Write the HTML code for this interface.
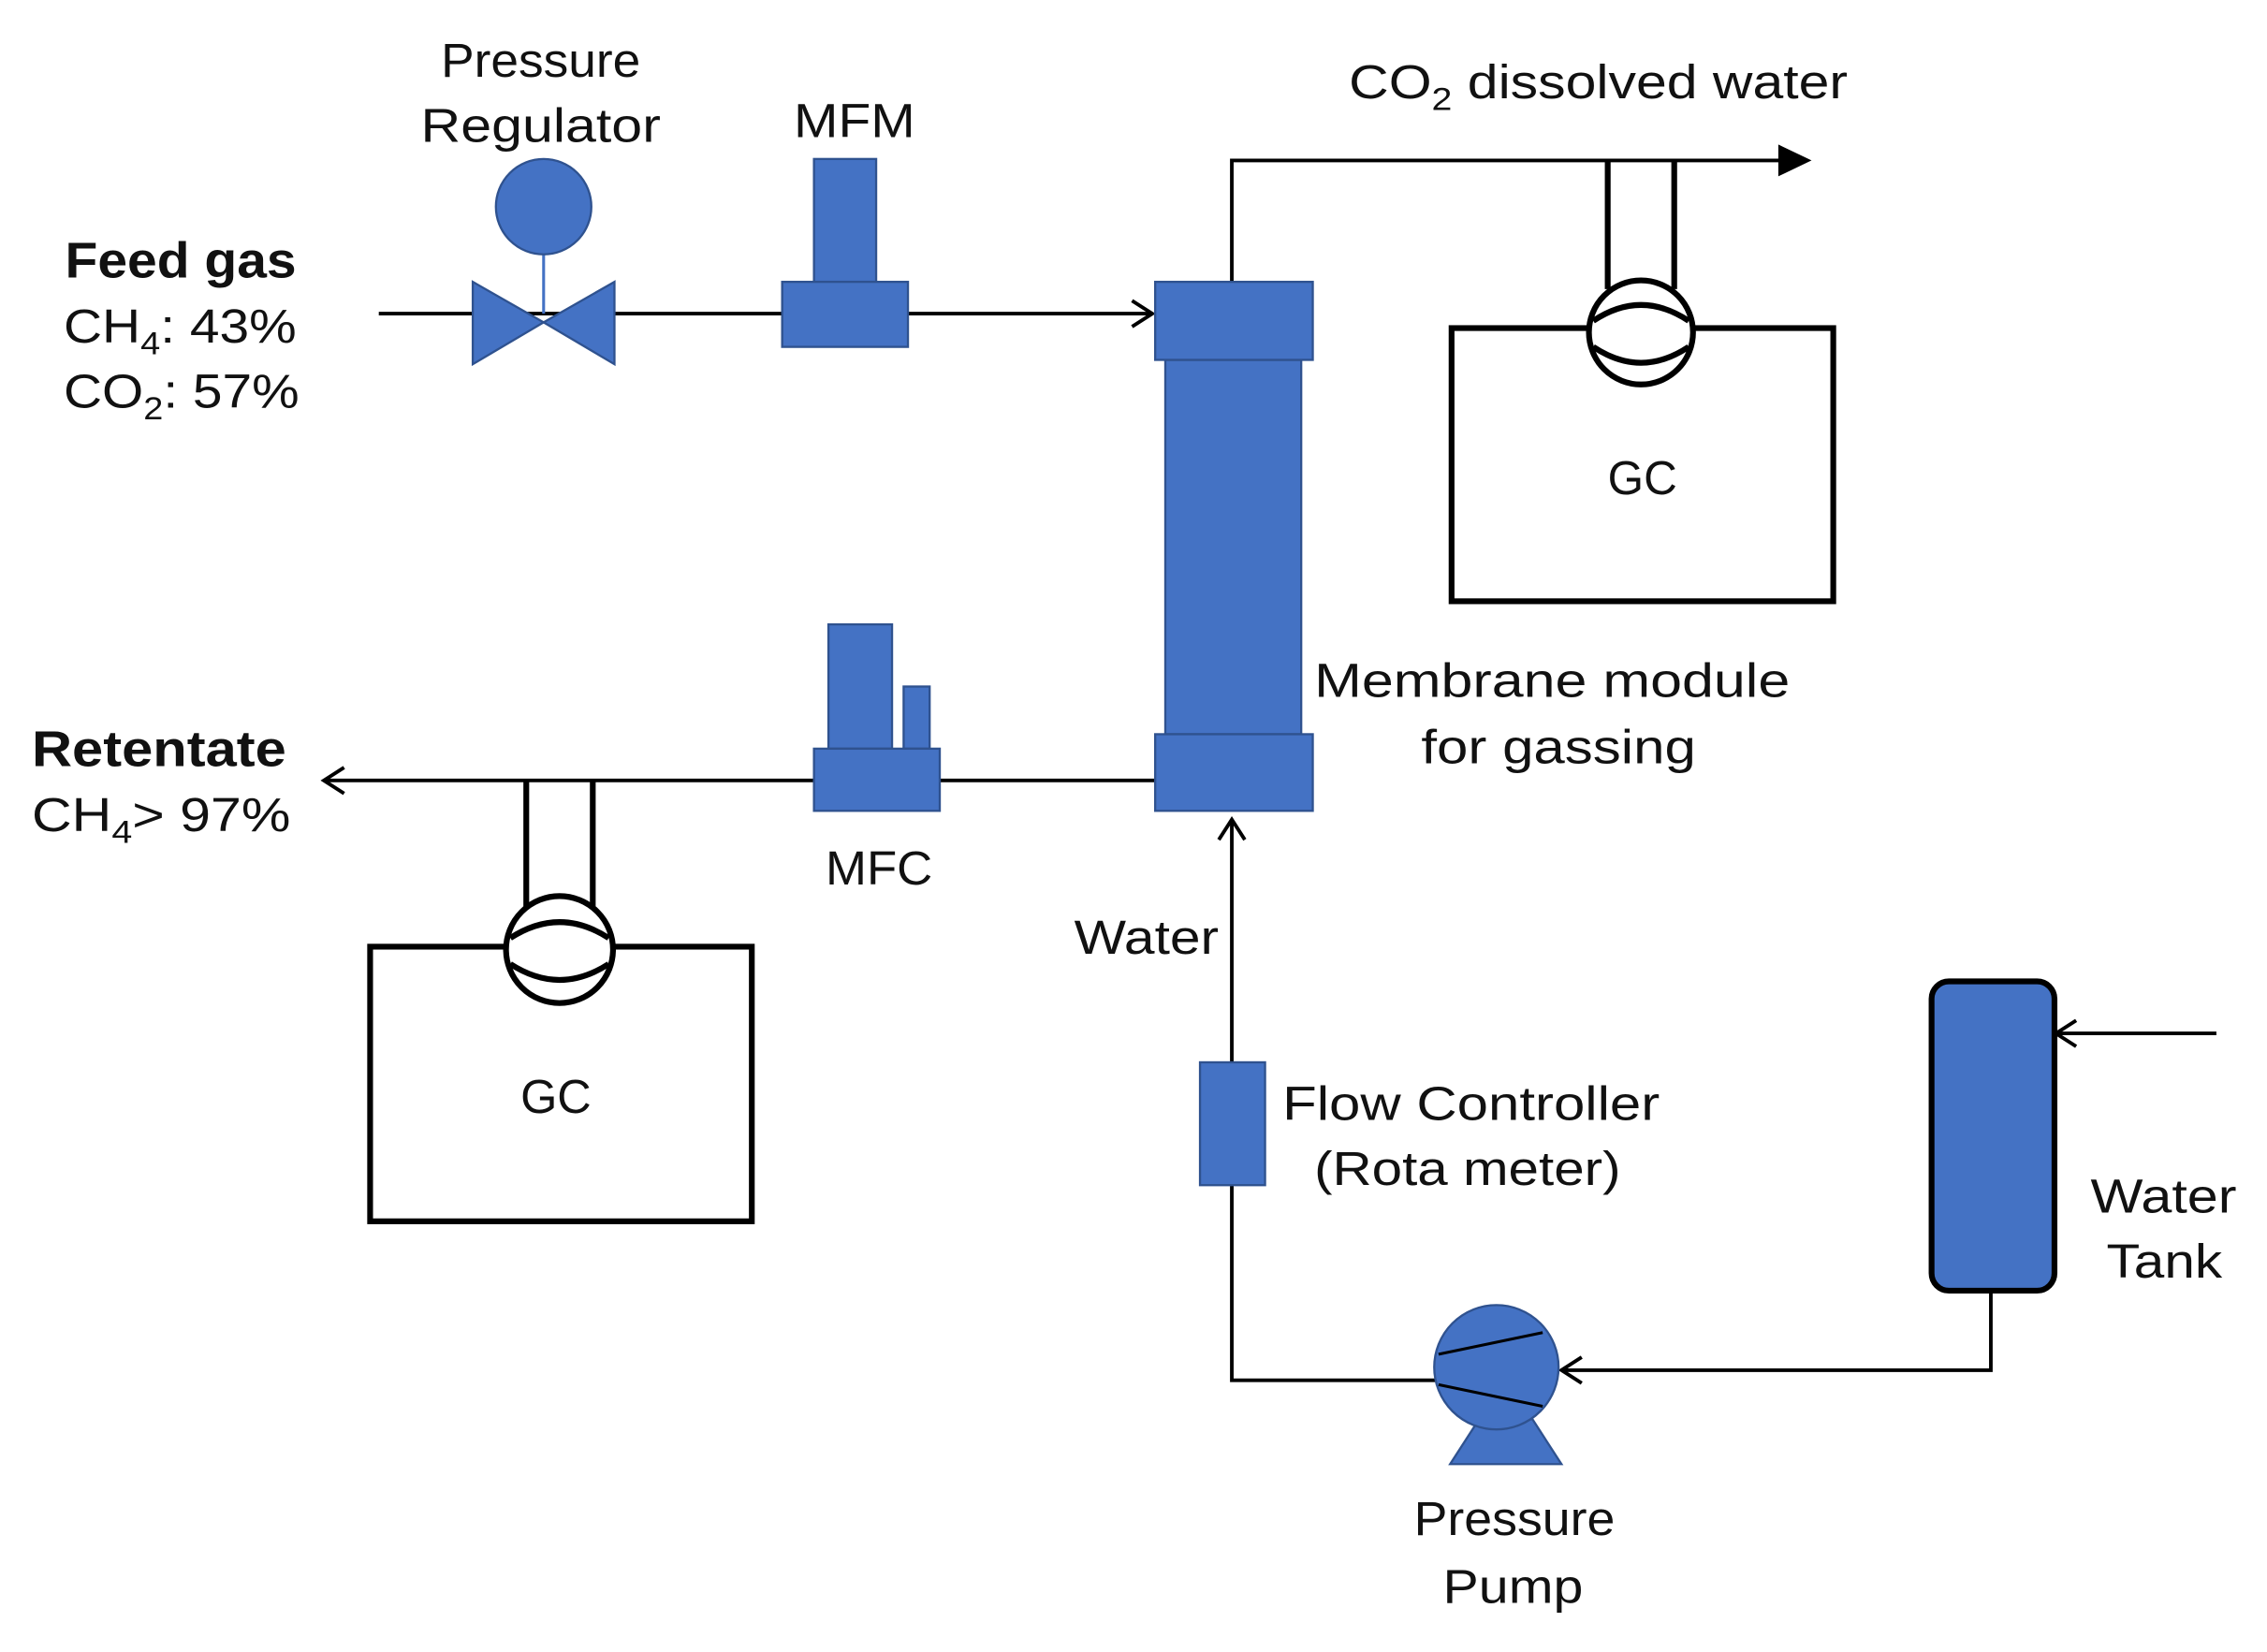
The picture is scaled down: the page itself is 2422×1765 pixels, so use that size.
<!DOCTYPE html>
<html><head><meta charset="utf-8"><style>
html,body{margin:0;padding:0;background:#fff;}
svg{display:block;}
text{font-family:"Liberation Sans","Noto Sans CJK KR",sans-serif;fill:#111;font-size:33px;}
.b{font-weight:bold;font-size:35px;}
</style></head><body>
<svg width="2422" height="1765" viewBox="0 0 1568 1143" preserveAspectRatio="none" xmlns="http://www.w3.org/2000/svg">
<defs>
<marker id="open" markerWidth="20" markerHeight="20" refX="17" refY="10" orient="auto" markerUnits="userSpaceOnUse">
<path d="M3,1 L17,10 L3,19" fill="none" stroke="#000" stroke-width="2.5"/></marker>
</defs>
<line x1="262" y1="217" x2="797" y2="217" stroke="#000" stroke-width="2.5" marker-end="url(#open)"/>
<line x1="376" y1="176" x2="376" y2="217" stroke="#4472C4" stroke-width="2"/>
<g fill="#4472C4" stroke="#2F528F" stroke-width="1.5">
<path d="M327,195 L376,223 L327,252 Z"/>
<path d="M425,195 L376,223 L425,252 Z"/>
<circle cx="376" cy="143" r="33"/>
<rect x="563" y="110" width="43" height="85"/>
<rect x="541" y="195" width="87" height="45"/>
</g>
<polyline points="852,195 852,111 1237,111" fill="none" stroke="#000" stroke-width="2.5"/>
<path d="M1230,100 L1253,111 L1230,122 Z" fill="#000"/>
<line x1="799" y1="540" x2="224" y2="540" stroke="#000" stroke-width="2.5" marker-end="url(#open)"/>
<g fill="#4472C4" stroke="#2F528F" stroke-width="1.5">
<rect x="573" y="432" width="44" height="86"/>
<rect x="625" y="475" width="18" height="43"/>
<rect x="563" y="518" width="87" height="43"/>
<rect x="806" y="249" width="94" height="259"/>
<rect x="799" y="195" width="109" height="54"/>
<rect x="799" y="508" width="109" height="53"/>
</g>
<polyline points="995,955 852,955 852,567" fill="none" stroke="#000" stroke-width="2.5" marker-end="url(#open)"/>
<rect x="830" y="735" width="45" height="85" fill="#4472C4" stroke="#2F528F" stroke-width="1.5"/>
<polyline points="1377,893 1377,948 1080,948" fill="none" stroke="#000" stroke-width="2.5" marker-end="url(#open)"/>
<line x1="1533" y1="715" x2="1422" y2="715" stroke="#000" stroke-width="2.5" marker-end="url(#open)"/>
<rect x="1336" y="679" width="85" height="214" rx="12" fill="#4472C4" stroke="#000" stroke-width="4"/>
<g fill="#4472C4" stroke="#2F528F" stroke-width="1.5">
<path d="M1003,1013 L1080,1013 L1060,982 L1023,982 Z"/>
<circle cx="1035" cy="946" r="43"/>
</g>
<line x1="995" y1="937" x2="1067" y2="922" stroke="#000" stroke-width="2"/>
<line x1="995" y1="958" x2="1067" y2="973" stroke="#000" stroke-width="2"/>
<rect x="1004" y="227" width="264" height="189" fill="#fff" stroke="#000" stroke-width="4"/>
<line x1="1112" y1="111" x2="1112" y2="200" stroke="#000" stroke-width="4"/>
<line x1="1158" y1="111" x2="1158" y2="200" stroke="#000" stroke-width="4"/>
<circle cx="1135" cy="230" r="36" fill="#fff" stroke="#000" stroke-width="4"/>
<path d="M1102,222 Q1135,200 1168,222 M1102,240 Q1135,262 1168,240" fill="none" stroke="#000" stroke-width="4"/>
<rect x="256" y="655" width="264" height="190" fill="#fff" stroke="#000" stroke-width="4"/>
<line x1="364" y1="540" x2="364" y2="627" stroke="#000" stroke-width="4"/>
<line x1="410" y1="540" x2="410" y2="627" stroke="#000" stroke-width="4"/>
<circle cx="387" cy="657" r="37" fill="#fff" stroke="#000" stroke-width="4"/>
<path d="M353,649 Q387,627 421,649 M353,667 Q387,689 421,667" fill="none" stroke="#000" stroke-width="4"/>
<g>
<text x="305" y="53" textLength="138" lengthAdjust="spacingAndGlyphs">Pressure</text>
<text x="291" y="98" textLength="166" lengthAdjust="spacingAndGlyphs">Regulator</text>
<text x="549" y="95" textLength="84" lengthAdjust="spacingAndGlyphs">MFM</text>
<text x="45" y="192" class="b" textLength="160" lengthAdjust="spacingAndGlyphs">Feed gas</text>
<text x="44" y="237" textLength="161" lengthAdjust="spacingAndGlyphs">CH<tspan font-size="22" dy="8">4</tspan><tspan dy="-8">: 43%</tspan></text>
<text x="44" y="282" textLength="163" lengthAdjust="spacingAndGlyphs">CO<tspan font-size="22" dy="8">2</tspan><tspan dy="-8">: 57%</tspan></text>
<text x="933" y="68" textLength="345" lengthAdjust="spacingAndGlyphs">CO<tspan font-size="22" dy="8">2</tspan><tspan dy="-8"> dissolved water</tspan></text>
<text x="1112" y="342" textLength="48" lengthAdjust="spacingAndGlyphs">GC</text>
<text x="360" y="770" textLength="49" lengthAdjust="spacingAndGlyphs">GC</text>
<text x="909" y="482" textLength="329" lengthAdjust="spacingAndGlyphs">Membrane module</text>
<text x="983" y="528" textLength="190" lengthAdjust="spacingAndGlyphs">for gassing</text>
<text x="22" y="530" class="b" textLength="176" lengthAdjust="spacingAndGlyphs">Retentate</text>
<text x="22" y="575" textLength="179" lengthAdjust="spacingAndGlyphs">CH<tspan font-size="22" dy="8">4</tspan><tspan dy="-8">&gt; 97%</tspan></text>
<text x="571" y="612" textLength="74" lengthAdjust="spacingAndGlyphs">MFC</text>
<text x="743" y="660" textLength="100" lengthAdjust="spacingAndGlyphs">Water</text>
<text x="887" y="775" textLength="261" lengthAdjust="spacingAndGlyphs">Flow Controller</text>
<text x="909" y="820" textLength="212" lengthAdjust="spacingAndGlyphs">(Rota meter)</text>
<text x="1446" y="839" textLength="101" lengthAdjust="spacingAndGlyphs">Water</text>
<text x="1457" y="884" textLength="80" lengthAdjust="spacingAndGlyphs">Tank</text>
<text x="978" y="1062" textLength="139" lengthAdjust="spacingAndGlyphs">Pressure</text>
<text x="998" y="1109" textLength="97" lengthAdjust="spacingAndGlyphs">Pump</text>
</g>
</svg>
</body></html>
